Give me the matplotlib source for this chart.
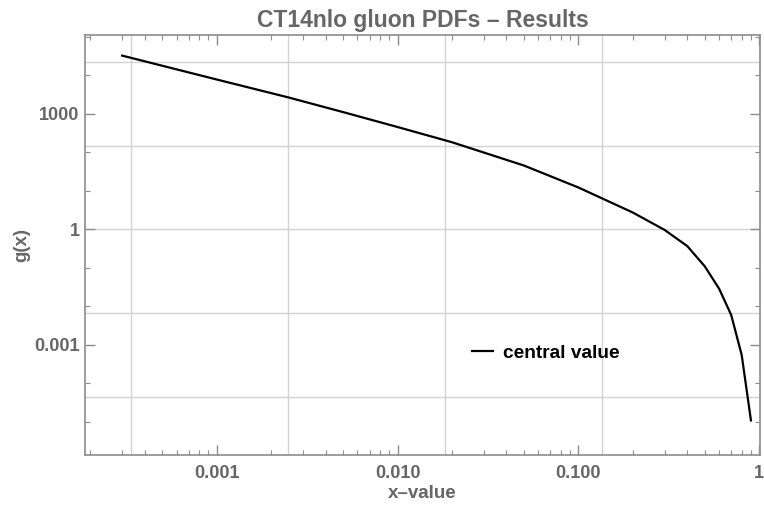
import matplotlib.pyplot as plt
import matplotlib.ticker as mticker
import numpy as np

# gluon PDF g(x), CT14nlo central member
x_vals = [3e-4, 1e-3, 2.5e-3, 5e-3, 0.01, 0.02, 0.05, 0.1, 0.2, 0.3, 0.4, 0.5, 0.6, 0.7, 0.8, 0.9]
g_vals = [32700, 7830, 2670, 1115, 457, 184, 45.7, 12.3, 2.75, 0.97, 0.37, 0.11, 0.029, 0.0060, 5.5e-4, 1.1e-5]

x_ticks = [0.001, 0.01, 0.1, 1]
x_tick_labels = ['0.001', '0.010', '0.100', '1']
y_ticks = [0.001, 1, 1000]
y_tick_labels = ['0.001', '1', '1000']

gray = '#666666'
frame = '#8c8c8c'
plt.rcParams['font.family'] = ['Liberation Sans', 'DejaVu Sans']

fig = plt.figure(figsize=(7.64, 5.05), dpi=100)
ax = fig.add_axes([85 / 764, 1 - 455 / 505, 675 / 764, 420 / 505])

ax.set_xscale('log')
ax.set_yscale('log')
ax.set_xlim(1.87e-4, 1.01)
ax.set_ylim(1.39e-6, 1.12e5)

# grid at powers of e, the way the notebook drew it
for k in [-8, -6, -4, -2]:
    ax.axvline(np.exp(k), color='#d2d2d2', lw=1, zorder=0)
for k in [-10, -5, 0, 5, 10]:
    ax.axhline(np.exp(k), color='#d2d2d2', lw=1, zorder=0)

ax.plot(x_vals, g_vals, color='black', lw=1.6, label='central value', zorder=3)

ax.xaxis.set_major_locator(mticker.FixedLocator(x_ticks))
ax.xaxis.set_major_formatter(mticker.FixedFormatter(x_tick_labels))
ax.xaxis.set_minor_locator(mticker.LogLocator(base=10, subs=np.arange(2, 10), numticks=20))
ax.xaxis.set_minor_formatter(mticker.NullFormatter())
ax.yaxis.set_major_locator(mticker.FixedLocator(y_ticks))
ax.yaxis.set_major_formatter(mticker.FixedFormatter(y_tick_labels))
ax.yaxis.set_minor_locator(mticker.FixedLocator([10.0 ** k for k in range(-6, 6)]))
ax.yaxis.set_minor_formatter(mticker.NullFormatter())

ax.tick_params(which='both', direction='in', top=True, right=True, color=frame,
               labelcolor=gray, labelsize=13)
ax.tick_params(axis='x', pad=7)
ax.tick_params(axis='y', pad=4)
ax.tick_params(which='major', length=7, width=1)
ax.tick_params(which='minor', length=3.5, width=0.8)
for lab in ax.get_xticklabels() + ax.get_yticklabels():
    lab.set_fontweight('bold')
for sp in ax.spines.values():
    sp.set_color(frame)
    sp.set_linewidth(1.2)

ax.set_title('CT14nlo gluon PDFs \u2013 Results', color=gray, fontsize=16.5,
             fontweight='bold', pad=6)
ax.set_xlabel('x\u2013value', color=gray, fontsize=13.5, fontweight='bold', labelpad=2)
ax.set_ylabel('g(x)', color=gray, fontsize=13.5, fontweight='bold', labelpad=3)

ax.legend(loc='center left', bbox_to_anchor=(0.573, 0.243), frameon=False,
          prop={'weight': 'bold', 'size': 13.8}, handlelength=1.1, handletextpad=0.55,
          borderpad=0, borderaxespad=0)

fig.savefig('out.png', dpi=100)
